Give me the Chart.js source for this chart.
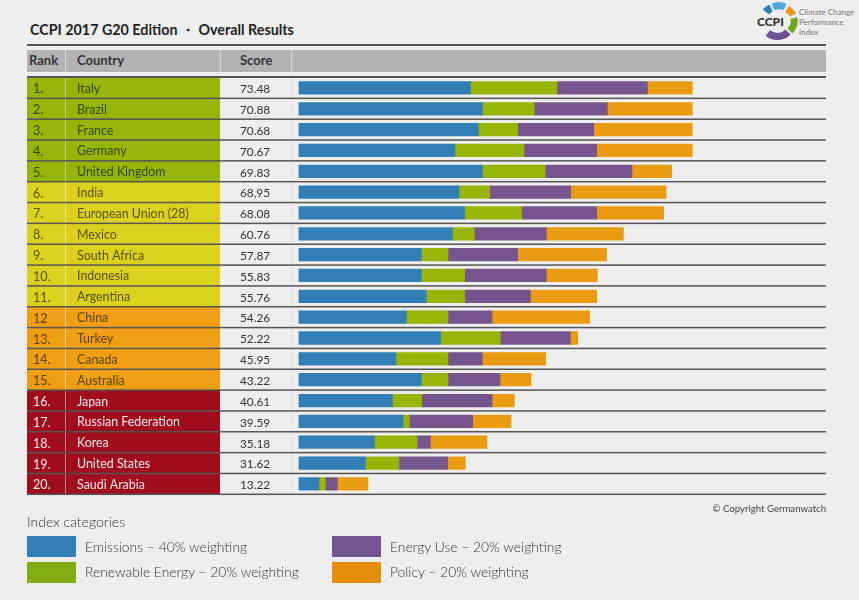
<!DOCTYPE html>
<html>
<head>
<meta charset="utf-8">
<title>CCPI 2017 G20 Edition</title>
<script src="https://cdn.jsdelivr.net/npm/chart.js@4"></script>
<style>
  html, body { margin: 0; padding: 0; background: #eeeeee; }
  body { width: 859px; height: 600px; position: relative; overflow: hidden; font-family: "Lato", sans-serif; color: #333; }
  canvas { position: absolute; left: 0; top: 0; }
  .txt { position: absolute; white-space: nowrap; }
  .title { left: 30px; top: 21px; font-size: 14.3px; font-weight: 700; color: #222; }
  .rule { position: absolute; left: 27px; width: 799px; background: #555; }
  .head { position: absolute; left: 27px; width: 799px; top: 50px; height: 22px; background: #b3b3b5; }
  .sep { position: absolute; top: 50px; height: 22px; width: 1px; background: #d8d8d8; }
  .th { top: 52px; font-size: 13px; font-weight: 700; color: #333; }
  .swatch { position: absolute; width: 49px; height: 21px; }
  .leg { font-size: 13.85px; color: #333; font-weight: 300; }
  .logoText { left: 799px; font-size: 8px; line-height: 10px; color: #777; }
</style>
</head>
<body>
<div class="txt title">CCPI 2017 G20 Edition ・ Overall Results</div>
<div class="rule" style="top:44px;height:2px"></div>
<div class="head"></div>
<div class="sep" style="left:65px"></div>
<div class="sep" style="left:220px"></div>
<div class="sep" style="left:291px"></div>
<div class="txt th" style="left:29px">Rank</div>
<div class="txt th" style="left:77px">Country</div>
<div class="txt th" style="left:240px">Score</div>

<svg style="position:absolute;left:755px;top:0" width="50" height="42" fill="none" stroke-width="7">
  <path d="M11 12 A14.5 14.5 0 0 1 16 8" stroke="#2f7fb5" stroke-width="8"/>
  <path d="M18 7 A14.5 14.5 0 0 1 30 7" stroke="#4da6d6"/>
  <path d="M32 9 A14.5 14.5 0 0 1 38 15" stroke="#e8951a"/>
  <path d="M39 18 A14.5 14.5 0 0 1 35 31" stroke="#6fa51f"/>
  <path d="M33 32 A14.5 14.5 0 0 1 13 33" stroke="#6f4f96"/>
</svg>
<div class="txt" style="left:757px;top:14px;font-size:12px;font-weight:900;color:#333">CCPI</div>
<div class="txt logoText" style="top:7px">Climate Change<br>Performance<br>Index</div>

<canvas id="ccpi-chart" width="859" height="600"></canvas>

<div class="txt" style="right:33px;top:503px;font-size:9.6px;color:#444">© Copyright Germanwatch</div>
<div class="txt" style="left:27px;top:513px;font-size:14px;color:#333;font-weight:300">Index categories</div>
<div class="swatch" style="left:27px;top:536px;background:#317fb6"></div>
<div class="swatch" style="left:27px;top:562px;background:#80ae12"></div>
<div class="swatch" style="left:332px;top:536px;background:#72558f"></div>
<div class="swatch" style="left:332px;top:562px;background:#e28e0a"></div>
<div class="txt leg" style="left:85px;top:538px">Emissions – 40% weighting</div>
<div class="txt leg" style="left:85px;top:563px">Renewable Energy – 20% weighting</div>
<div class="txt leg" style="left:390px;top:538px">Energy Use – 20% weighting</div>
<div class="txt leg" style="left:390px;top:563px">Policy – 20% weighting</div>

<script>
const countries = ["Italy", "Brazil", "France", "Germany", "United Kingdom", "India", "European Union (28)", "Mexico", "South Africa", "Indonesia", "Argentina", "China", "Turkey", "Canada", "Australia", "Japan", "Russian Federation", "Korea", "United States", "Saudi Arabia"];
const ranks = ["1.", "2.", "3.", "4.", "5.", "6.", "7.", "8.", "9.", "10.", "11.", "12", "13.", "14.", "15.", "16.", "17.", "18.", "19.", "20."];
const scores = ["73.48", "70.88", "70.68", "70.67", "69.83", "68,95", "68.08", "60.76", "57.87", "55.83", "55.76", "54.26", "52.22", "45.95", "43.22", "40.61", "39.59", "35.18", "31.62", "13.22"];

// index points per category
const emissions = [34.37, 36.77, 35.97, 31.3, 36.77, 32.1, 33.23, 30.77, 24.57, 24.57, 25.57, 21.57, 28.43, 19.5, 24.57, 18.77, 20.9, 15.17, 13.37, 4.1];
const renewables = [17.33, 10.4, 7.87, 13.8, 12.53, 6.13, 11.4, 4.4, 5.33, 8.67, 7.67, 8.33, 11.93, 10.4, 5.33, 5.87, 1.27, 8.53, 6.73, 1.27];
const energyUse = [18.07, 14.6, 15.2, 14.53, 17.4, 16.2, 15, 14.4, 13.93, 16.33, 13.13, 8.8, 14, 6.87, 10.4, 14.07, 12.67, 2.67, 9.73, 2.4];
const policy = [9, 17, 19.73, 19.13, 7.93, 19.07, 13.4, 15.4, 17.8, 10.2, 13.27, 19.53, 1.47, 12.67, 6.2, 4.47, 7.67, 11.33, 3.53, 6.13];

// rank band per country: 0 green, 1 yellow, 2 orange, 3 red
const bands = [0, 0, 0, 0, 0, 1, 1, 1, 1, 1, 1, 2, 2, 2, 2, 3, 3, 3, 3, 3];
const bandColors = ["#96b40a", "#dbd21f", "#ee9f14", "#a00d1e"];
const bandText = ["#37480c", "#57530f", "#5c3f0b", "#f5e9ea"];

// Paints the table rows before the axis labels, uses the y scale so they line up
const tablePlugin = {
    id: "tableRows",
    beforeDraw(chart) {
        const ctx = chart.ctx;
        const y = chart.scales.y;
        const step = y.getPixelForValue(1) - y.getPixelForValue(0);
        ctx.save();
        for (let i = 0; i < countries.length; i++) {
            const top = y.getPixelForValue(i) - step / 2;
            ctx.fillStyle = bandColors[bands[i]];
            ctx.fillRect(27, top, 193, step);
        }
        ctx.fillStyle = "rgba(255,255,255,0.45)";
        ctx.fillRect(65, y.top, 1, y.bottom - y.top);
        ctx.fillStyle = "#dddddd";
        ctx.fillRect(291, y.top, 1, y.bottom - y.top);
        ctx.fillStyle = "#555555";
        ctx.fillRect(27, y.top - 1.5, 799, 2);
        for (let i = 0; i < countries.length; i++) {
            const bottom = y.getPixelForValue(i) + step / 2;
            ctx.fillRect(27, bottom - 0.75, 799, 1.5);
        }
        ctx.textBaseline = "middle";
        for (let i = 0; i < countries.length; i++) {
            const mid = y.getPixelForValue(i) + 1.5;
            ctx.font = "400 12.5px Lato";
            ctx.fillStyle = bandText[bands[i]];
            ctx.fillText(ranks[i], 33, mid);
            ctx.font = "400 11.8px Lato";
            ctx.fillStyle = "#333333";
            ctx.fillText(scores[i], 240, mid);
        }
        ctx.restore();
    }
};

new Chart(document.getElementById("ccpi-chart"), {
    type: "bar",
    data: {
        labels: countries,
        datasets: [
            { label: "Emissions", data: emissions, backgroundColor: "#317fb6" },
            { label: "Renewable Energy", data: renewables, backgroundColor: "#97b507" },
            { label: "Energy Use", data: energyUse, backgroundColor: "#76558f" },
            { label: "Policy", data: policy, backgroundColor: "#e99c12" }
        ]
    },
    options: {
        indexAxis: "y",
        responsive: false,
        animation: false,
        devicePixelRatio: 1,
        layout: { padding: { left: 77, top: 77.5, right: 33, bottom: 105.7 } },
        datasets: { bar: { barThickness: 12.6, borderWidth: 0 } },
        plugins: { legend: { display: false }, tooltip: { enabled: false } },
        scales: {
            x: { stacked: true, display: false, min: 0, max: 105.5 },
            y: {
                stacked: true,
                grid: { display: false },
                border: { display: false },
                afterFit(scale) { scale.width = 221.5; },
                ticks: {
                    crossAlign: "far",
                    padding: 0,
                    autoSkip: false,
                    labelOffset: 1,
                    font: { family: "Lato", size: 12.4 },
                    color: (c) => bandText[bands[c.index]]
                }
            }
        }
    },
    plugins: [tablePlugin]
});
</script>
</body>
</html>
